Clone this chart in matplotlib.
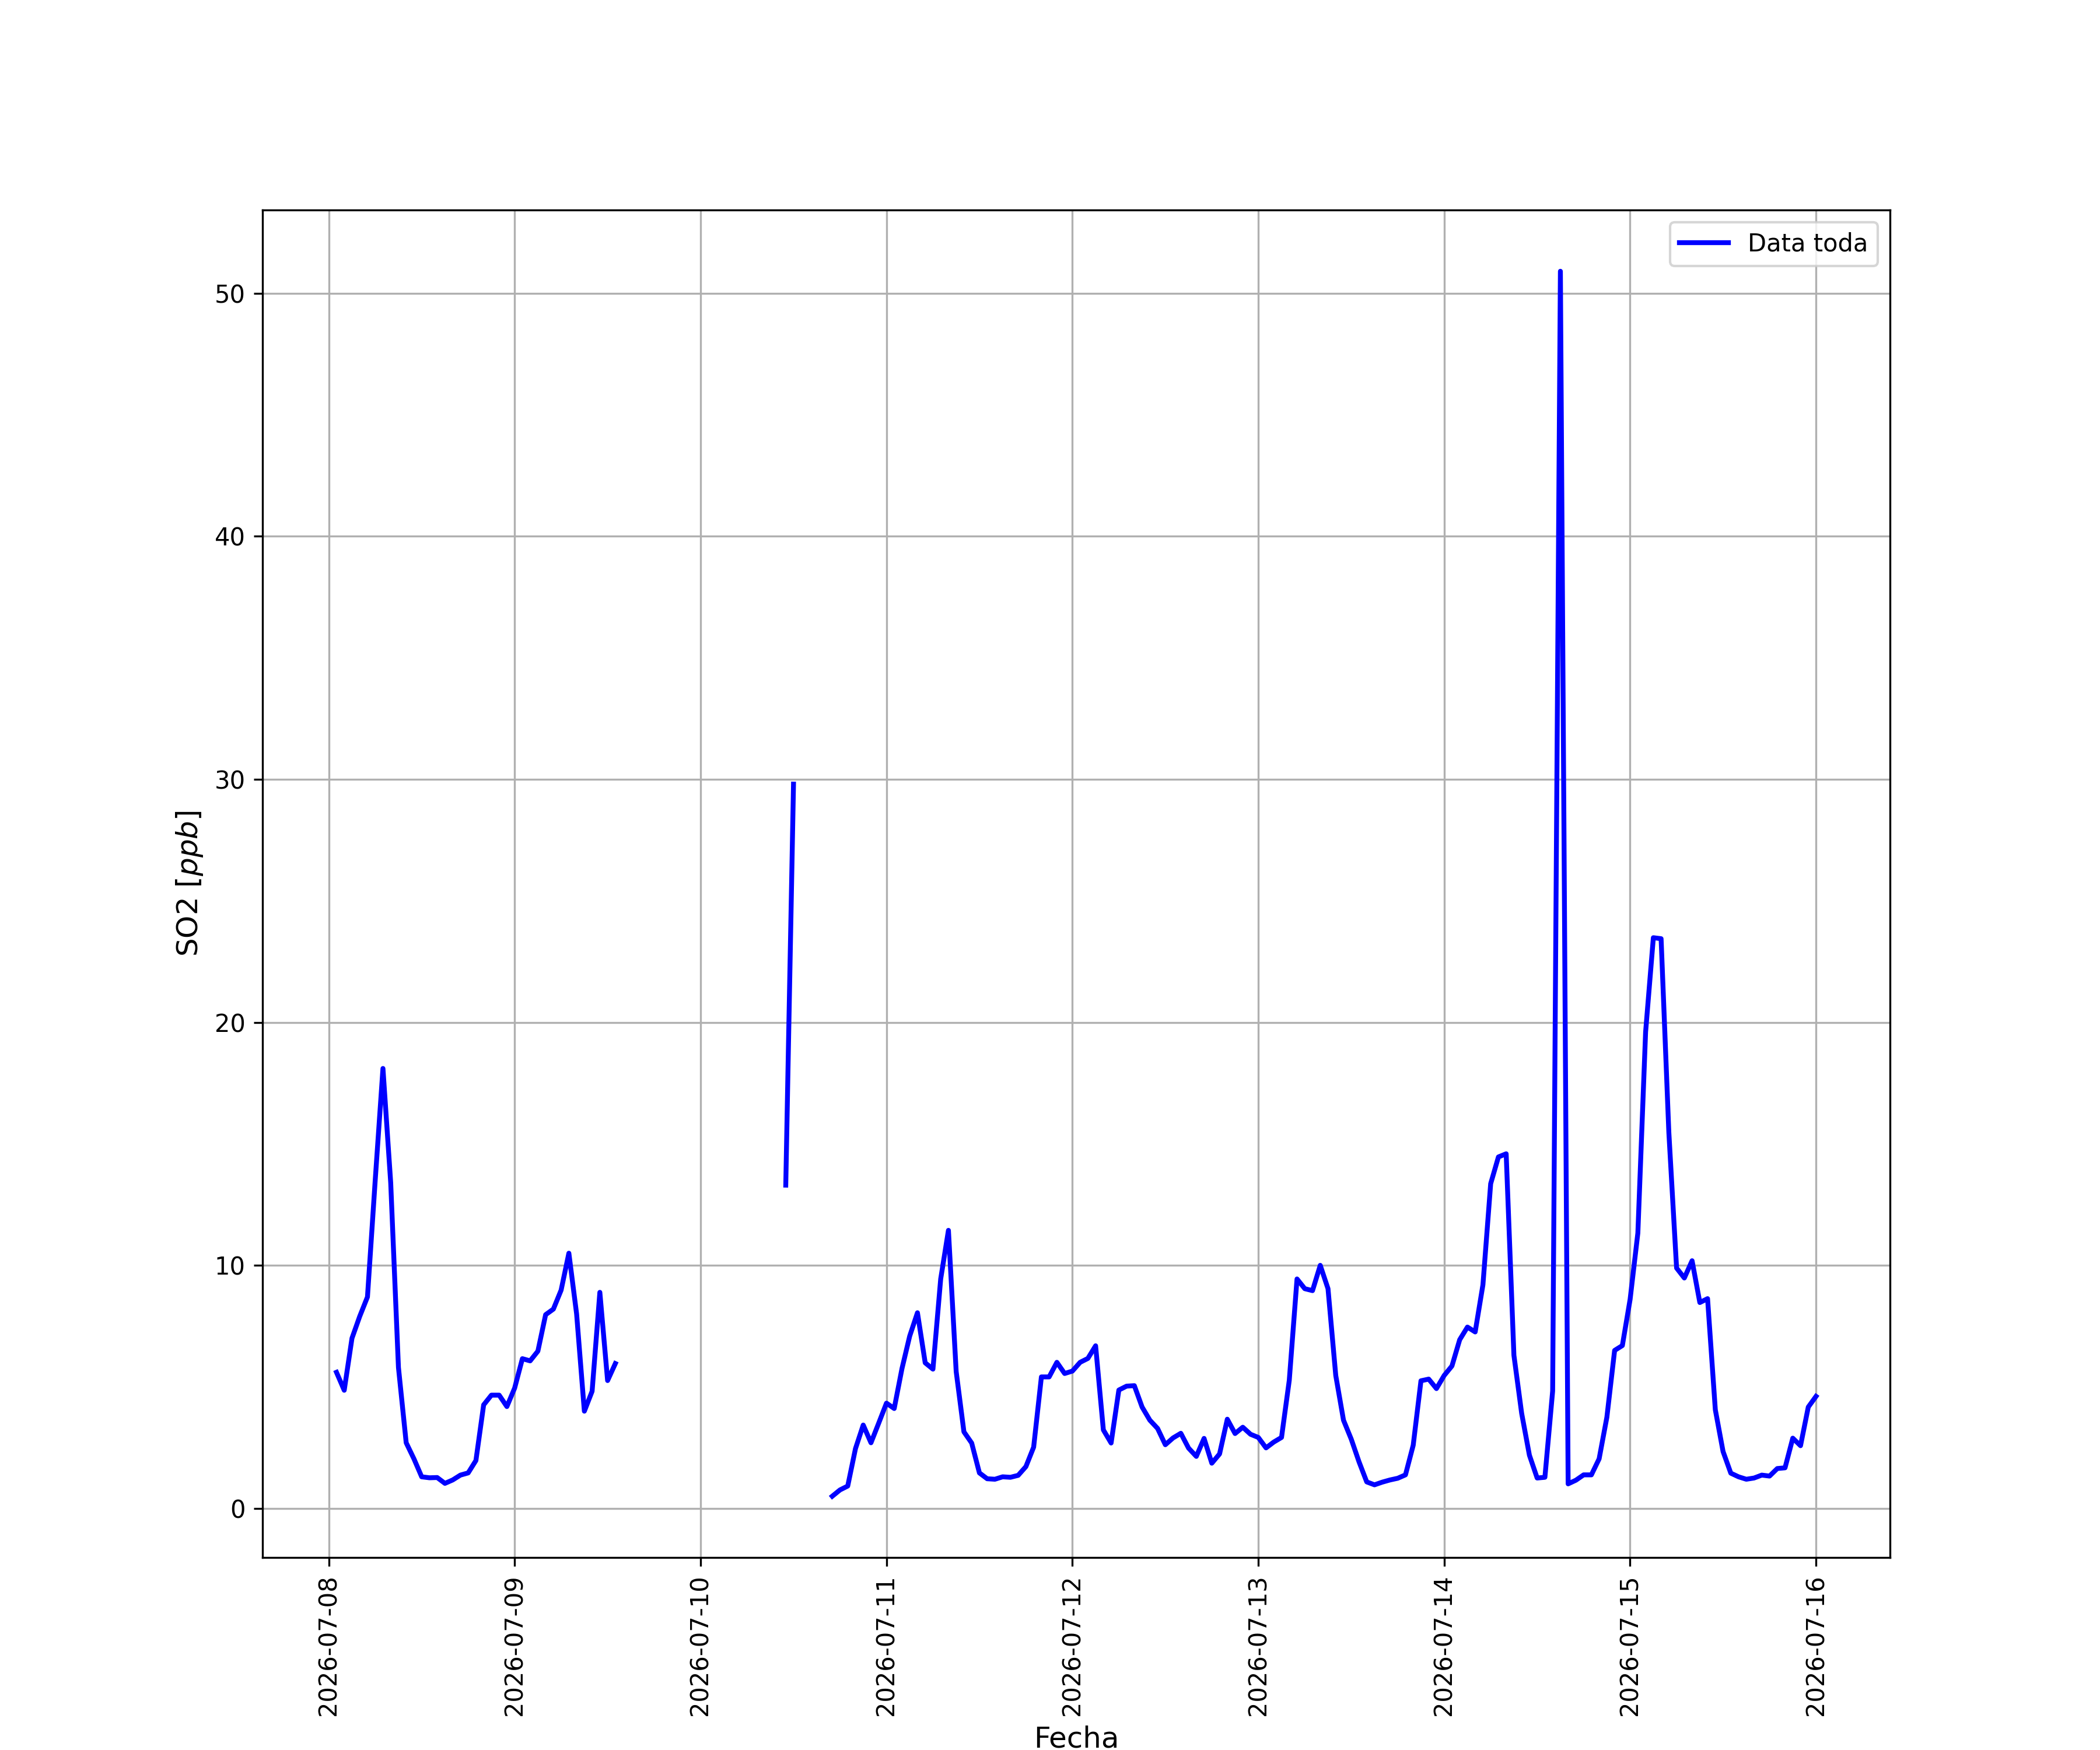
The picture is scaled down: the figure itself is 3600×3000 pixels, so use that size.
import numpy as np
import pandas as pd
import matplotlib
matplotlib.use('Agg')
import matplotlib.pyplot as plt

nan = np.nan

# ==== datos horarios de SO2 [ppb], desde 2026-07-08 01:00 ====
dia_08 = [5.6, 4.86, 7.0, 7.9, 8.7, 13.5, 18.1, 13.4, 5.8, 2.7, 2.04, 1.3,
          1.26, 1.27, 1.03, 1.17, 1.37, 1.46, 1.97, 4.26, 4.66, 4.66, 4.19]  # 01h..23h
dia_09 = [4.95, 6.16, 6.07, 6.47, 7.97, 8.2, 8.98, 10.5, 8.0, 4.0, 4.82, 8.89,
          5.26, 5.96] + [nan] * 10
dia_10 = [nan] * 11 + [13.3, 29.8] + [nan] * 4 + [0.50, 0.76, 0.92, 2.46, 3.43, 2.70, 3.51]
dia_11 = [4.33, 4.11, 5.75, 7.09, 8.05, 5.99, 5.73, 9.44, 11.44, 5.63, 3.15, 2.69,
          1.46, 1.22, 1.20, 1.30, 1.28, 1.36, 1.72, 2.52, 5.41, 5.41, 6.01, 5.55]
dia_12 = [5.65, 6.01, 6.17, 6.69, 3.23, 2.69, 4.87, 5.03, 5.05, 4.17, 3.63, 3.29,
          2.62, 2.90, 3.09, 2.48, 2.14, 2.88, 1.86, 2.24, 3.67, 3.08, 3.34, 3.05]
dia_13 = [2.92, 2.49, 2.73, 2.92, 5.27, 9.44, 9.04, 8.96, 10.0, 9.04, 5.47, 3.63,
          2.85, 1.92, 1.09, 0.97, 1.08, 1.17, 1.24, 1.38, 2.60, 5.25, 5.32, 4.93]
dia_14 = [5.47, 5.86, 6.94, 7.46, 7.26, 9.2, 13.36, 14.46, 14.59, 6.30, 3.91, 2.19,
          1.25, 1.28, 4.83, 50.9, 1.01, 1.16, 1.38, 1.38, 2.04, 3.75, 6.5, 6.70]
dia_15 = [8.6, 11.33, 19.6, 23.48, 23.44, 15.47, 9.89, 9.48, 10.19, 8.47, 8.63, 4.06,
          2.34, 1.45, 1.30, 1.20, 1.25, 1.37, 1.33, 1.64, 1.67, 2.89, 2.58, 4.17]
dia_16 = [4.61]

so2 = dia_08 + dia_09 + dia_10 + dia_11 + dia_12 + dia_13 + dia_14 + dia_15 + dia_16
fechas = pd.date_range('2026-07-08 01:00', periods=len(so2), freq='h')

df = pd.DataFrame({'SO2': so2}, index=fechas)

# ==== grafico ====
fig, ax = plt.subplots(figsize=(12, 10), dpi=300)
ax.plot(df.index, df['SO2'], color='blue', linewidth=2, label='Data toda')
ax.grid(True)
ax.set_xlabel('Fecha', fontsize=12)
ax.set_ylabel('SO2 [$ppb$]', fontsize=12)
plt.xticks(rotation=90)
ax.legend(loc='upper right')

fig.savefig('out.png', dpi=300)
